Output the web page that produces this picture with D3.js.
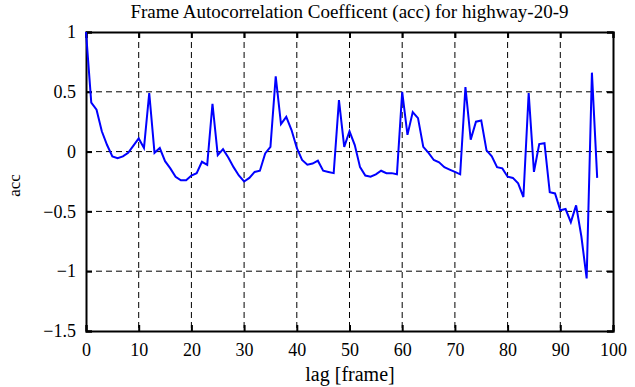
<!DOCTYPE html>
<html>
<head>
<meta charset="utf-8">
<script src="https://cdn.jsdelivr.net/npm/d3@7"></script>
<style>
  body { margin: 0; background: #fff; }
</style>
</head>
<body>
<div id="chart"></div>
<script>
// Data
var lags = d3.range(0, 98);
var acc = [
  1.0, 0.41, 0.35, 0.17, 0.055, -0.04, -0.056, -0.04, -0.01, 0.05,
  0.11, 0.03, 0.49, -0.01, 0.03, -0.08, -0.14, -0.21, -0.24, -0.24,
  -0.2, -0.18, -0.085, -0.11, 0.40, -0.03, 0.02, -0.05, -0.13, -0.2,
  -0.25, -0.22, -0.17, -0.16, -0.015, 0.04, 0.63, 0.23, 0.29, 0.18,
  0.03, -0.07, -0.11, -0.10, -0.076, -0.16, -0.17, -0.18, 0.43, 0.04,
  0.17, 0.055, -0.13, -0.2, -0.21, -0.19, -0.16, -0.18, -0.18, -0.19,
  0.5, 0.14, 0.33, 0.28, 0.04, -0.01, -0.07, -0.09, -0.13, -0.15,
  -0.17, -0.19, 0.54, 0.1, 0.25, 0.26, 0.01, -0.04, -0.13, -0.14,
  -0.21, -0.22, -0.265, -0.38, 0.49, -0.17, 0.063, 0.07, -0.34, -0.35,
  -0.49, -0.48, -0.59, -0.45, -0.71, -1.06, 0.66, -0.22
];
var xTicks = [0, 10, 20, 30, 40, 50, 60, 70, 80, 90, 100];
var yTicks = [-1.5, -1, -0.5, 0, 0.5, 1];

var serif = "'Liberation Serif', 'Times New Roman', Times, serif";

var svgWidth = 635;
var svgHeight = 387;
var margin = { top: 32, right: 22, bottom: 56, left: 86 };
var chartWidth = svgWidth - margin.left - margin.right;
var chartHeight = svgHeight - margin.top - margin.bottom;

var svg = d3.select("#chart")
  .append("svg")
  .attr("width", svgWidth)
  .attr("height", svgHeight);

var chartGroup = svg.append("g")
  .attr("transform", `translate(${margin.left}, ${margin.top})`);

var x = d3.scaleLinear().domain([0, 100]).range([0, chartWidth]);
var y = d3.scaleLinear().domain([-1.5, 1]).range([chartHeight, 0]);

// Dashed grid
chartGroup.selectAll("line.vgrid")
  .data(xTicks.slice(1, -1))
  .enter().append("line")
  .attr("x1", d => x(d)).attr("x2", d => x(d))
  .attr("y1", 0).attr("y2", chartHeight)
  .attr("stroke", "#000").attr("stroke-width", 1)
  .attr("stroke-dasharray", "6,4");

chartGroup.selectAll("line.hgrid")
  .data(yTicks.slice(1, -1))
  .enter().append("line")
  .attr("x1", 0).attr("x2", chartWidth)
  .attr("y1", d => y(d)).attr("y2", d => y(d))
  .attr("stroke", "#000").attr("stroke-width", 1)
  .attr("stroke-dasharray", "6,4");

// Axes (ticks pointing inward)
var tickFmt = d => d3.format("")(d);
function styleAxis(g) {
  g.attr("font-family", serif).attr("font-size", 18);
  g.selectAll("text")
    .style("font-family", serif)
    .style("font-size", "18px")
    .attr("fill", "#000");
}

chartGroup.append("g")
  .attr("transform", `translate(0, ${chartHeight})`)
  .call(d3.axisBottom(x).tickValues(xTicks).tickSize(-6).tickPadding(12).tickFormat(tickFmt))
  .call(styleAxis);

chartGroup.append("g")
  .call(d3.axisTop(x).tickValues(xTicks).tickSize(-6).tickFormat(""));

chartGroup.append("g")
  .call(d3.axisLeft(y).tickValues(yTicks).tickSize(-6).tickPadding(10).tickFormat(tickFmt))
  .call(styleAxis);

chartGroup.append("g")
  .attr("transform", `translate(${chartWidth}, 0)`)
  .call(d3.axisRight(y).tickValues(yTicks).tickSize(-6).tickFormat(""));

chartGroup.selectAll(".domain").attr("stroke-width", 2);
chartGroup.selectAll(".tick line").attr("stroke-width", 2);

// The line
var line = d3.line()
  .x((d, i) => x(lags[i]))
  .y(d => y(d));

chartGroup.append("path")
  .datum(acc)
  .attr("fill", "none")
  .attr("stroke", "#0000ff")
  .attr("stroke-width", 2)
  .attr("d", line);

// Title
svg.append("text")
  .attr("x", margin.left + chartWidth / 2)
  .attr("y", 18)
  .attr("text-anchor", "middle")
  .style("font-family", serif)
  .style("font-size", "19px")
  .text("Frame Autocorrelation Coefficent (acc) for highway-20-9");

// x label
svg.append("text")
  .attr("x", 350)
  .attr("y", 381)
  .attr("text-anchor", "middle")
  .style("font-family", serif)
  .style("font-size", "20px")
  .text("lag [frame]");

// y label
svg.append("text")
  .attr("transform", "rotate(-90)")
  .attr("x", -(margin.top + chartHeight / 2) - 4)
  .attr("y", 20)
  .attr("text-anchor", "middle")
  .style("font-family", serif)
  .style("font-size", "17px")
  .text("acc");
</script>
</body>
</html>
